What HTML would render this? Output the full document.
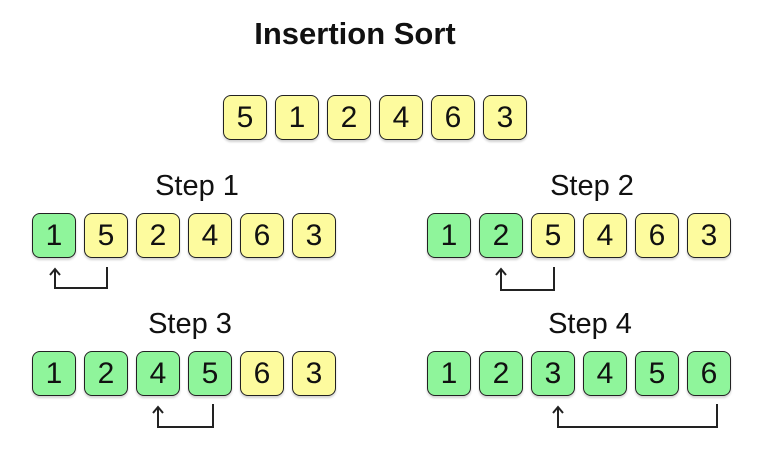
<!DOCTYPE html>
<html><head><style>
body{margin:0;width:770px;height:458px;background:#fff;position:relative;overflow:hidden;font-family:"Liberation Sans",sans-serif}
.b{position:absolute;width:42px;height:43px;border:1.5px solid #222;border-radius:8px;box-sizing:content-box;font-size:30px;line-height:43px;text-align:center;color:#111;box-shadow:0 2px 2px rgba(0,0,0,0.18)}
.y{background:#fdfb9e}.g{background:#8ff59b}
.t{position:absolute;font-size:29px;color:#111;text-align:center;width:200px}
</style></head><body>
<div style="position:absolute;left:205px;top:16px;width:300px;text-align:center;font-weight:bold;font-size:31px;color:#111">Insertion Sort</div>
<div class="t" style="left:97px;top:170px">Step 1</div>
<div class="t" style="left:492px;top:170px">Step 2</div>
<div class="t" style="left:90px;top:308px">Step 3</div>
<div class="t" style="left:490px;top:308px">Step 4</div>

<div class="b y" style="left:223px;top:95px">5</div>
<div class="b y" style="left:275px;top:95px">1</div>
<div class="b y" style="left:327px;top:95px">2</div>
<div class="b y" style="left:379px;top:95px">4</div>
<div class="b y" style="left:431px;top:95px">6</div>
<div class="b y" style="left:483px;top:95px">3</div>

<div class="b g" style="left:32px;top:213px">1</div>
<div class="b y" style="left:84px;top:213px">5</div>
<div class="b y" style="left:136px;top:213px">2</div>
<div class="b y" style="left:188px;top:213px">4</div>
<div class="b y" style="left:240px;top:213px">6</div>
<div class="b y" style="left:292px;top:213px">3</div>

<div class="b g" style="left:427px;top:213px">1</div>
<div class="b g" style="left:479px;top:213px">2</div>
<div class="b y" style="left:531px;top:213px">5</div>
<div class="b y" style="left:583px;top:213px">4</div>
<div class="b y" style="left:635px;top:213px">6</div>
<div class="b y" style="left:687px;top:213px">3</div>

<div class="b g" style="left:32px;top:351px">1</div>
<div class="b g" style="left:84px;top:351px">2</div>
<div class="b g" style="left:136px;top:351px">4</div>
<div class="b g" style="left:188px;top:351px">5</div>
<div class="b y" style="left:240px;top:351px">6</div>
<div class="b y" style="left:292px;top:351px">3</div>

<div class="b g" style="left:427px;top:351px">1</div>
<div class="b g" style="left:479px;top:351px">2</div>
<div class="b g" style="left:531px;top:351px">3</div>
<div class="b g" style="left:583px;top:351px">4</div>
<div class="b g" style="left:635px;top:351px">5</div>
<div class="b g" style="left:687px;top:351px">6</div>

<svg width="770" height="458" style="position:absolute;left:0;top:0" fill="none" stroke="#222" stroke-width="2">
<path d="M55 270 V288 H107 V267 M50 275 L55 269 L60 275"/>
<path d="M501 270 V290 H554 V267 M496 275 L501 269 L506 275"/>
<path d="M158 408 V427 H213 V404 M153 413 L158 407 L163 413"/>
<path d="M558 408 V427 H717 V404 M553 413 L558 407 L563 413"/>
</svg>
</body></html>
